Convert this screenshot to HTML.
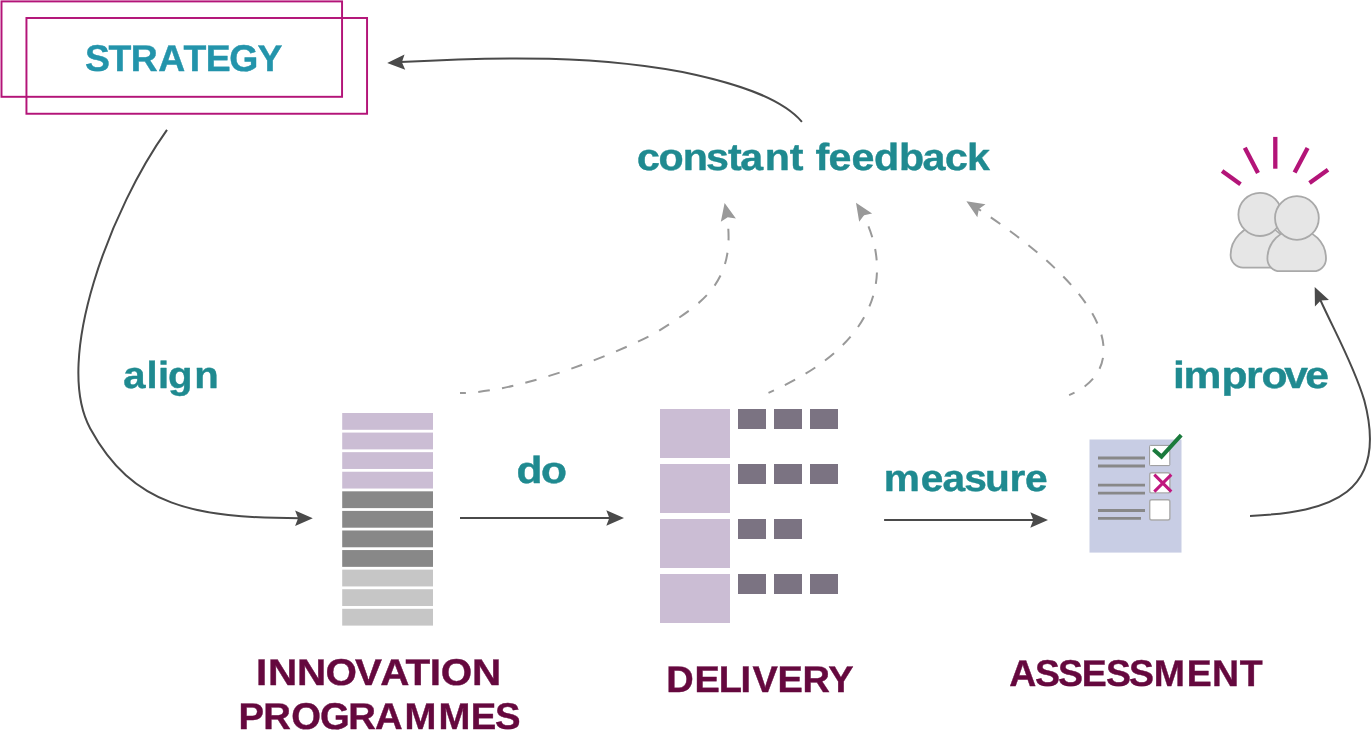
<!DOCTYPE html>
<html lang="en">
<head>
<meta charset="utf-8">
<title>Innovation strategy cycle</title>
<style>
html,body{margin:0;padding:0;background:#fff;}
body{width:1371px;height:739px;overflow:hidden;}
svg{display:block;will-change:transform;}
text{font-family:"Liberation Sans",sans-serif;font-weight:bold;stroke-linejoin:round;text-rendering:geometricPrecision;}
</style>
</head>
<body>
<svg width="1371" height="739" viewBox="0 0 1371 739">
<rect width="1371" height="739" fill="#ffffff"/>

<rect x="1.5" y="1.4" width="340.55" height="95.4" fill="none" stroke="#b31478" stroke-width="1.95"/>
<rect x="26.45" y="18.0" width="340.6" height="95.75" fill="none" stroke="#b31478" stroke-width="1.95"/>
<text transform="scale(1.0045 1)" x="84.70 108.04 130.05 157.60 182.66 204.85 228.18 256.31" y="70.6" font-size="37.2" fill="#2394ab" stroke="#2394ab" stroke-width="0.4">STRATEGY</text>
<text transform="scale(1.0894 1)" x="584.83 604.45 626.82 648.00 668.17 679.44 701.95 725.00 738.23 748.55 760.57 781.73 802.28 825.25 846.74 867.56 887.75" y="170.0" font-size="37.8" fill="#1f8a90" stroke="#1f8a90" stroke-width="0.4">constant feedback</text>
<text transform="scale(1.0598 1)" x="116.40 138.33 148.99 158.54 183.22" y="387.6" font-size="37.8" fill="#1f8a90" stroke="#1f8a90" stroke-width="0.4">align</text>
<text transform="scale(1.1242 1)" x="459.43 481.22" y="483.0" font-size="37.8" fill="#1f8a90" stroke="#1f8a90" stroke-width="0.4">do</text>
<text transform="scale(1.0758 1)" x="821.38 855.91 876.13 896.34 915.60 938.28 952.81" y="490.9" font-size="37.8" fill="#1f8a90" stroke="#1f8a90" stroke-width="0.4">measure</text>
<text transform="scale(1.1280 1)" x="1039.90 1049.31 1082.98 1104.52 1118.45 1138.53 1157.17" y="387.5" font-size="37.8" fill="#1f8a90" stroke="#1f8a90" stroke-width="0.4">improve</text>
<text transform="scale(1.0869 1)" x="235.60 246.49 273.17 299.51 326.63 349.78 373.20 395.32 405.59 434.26" y="685.0" font-size="37.2" fill="#65083e" stroke="#65083e" stroke-width="0.4">INNOVATION</text>
<text transform="scale(1.0294 1)" x="231.74 255.72 282.96 310.87 338.34 364.25 392.86 425.93 457.41 480.80" y="728.8" font-size="37.2" fill="#65083e" stroke="#65083e" stroke-width="0.4">PROGRAMMES</text>
<text transform="scale(1.0224 1)" x="651.76 679.19 702.97 724.36 736.14 760.57 784.92 810.11" y="692.0" font-size="37.2" fill="#65083e" stroke="#65083e" stroke-width="0.4">DELIVERY</text>
<text transform="scale(1.0065 1)" x="1002.69 1028.37 1051.13 1074.81 1098.96 1121.67 1146.31 1178.98 1204.17 1231.65" y="685.9" font-size="37.2" fill="#65083e" stroke="#65083e" stroke-width="0.4">ASSESSMENT</text>
<rect x="342.2" y="413.00" width="90.8" height="16.8" fill="#cbbdd4"/>
<rect x="342.2" y="432.58" width="90.8" height="16.8" fill="#cbbdd4"/>
<rect x="342.2" y="452.16" width="90.8" height="16.8" fill="#cbbdd4"/>
<rect x="342.2" y="471.74" width="90.8" height="16.8" fill="#cbbdd4"/>
<rect x="342.2" y="491.32" width="90.8" height="16.8" fill="#888888"/>
<rect x="342.2" y="510.90" width="90.8" height="16.8" fill="#888888"/>
<rect x="342.2" y="530.48" width="90.8" height="16.8" fill="#888888"/>
<rect x="342.2" y="550.06" width="90.8" height="16.8" fill="#888888"/>
<rect x="342.2" y="569.64" width="90.8" height="16.8" fill="#c6c6c6"/>
<rect x="342.2" y="589.22" width="90.8" height="16.8" fill="#c6c6c6"/>
<rect x="342.2" y="608.80" width="90.8" height="16.8" fill="#c6c6c6"/>
<rect x="660" y="409" width="70" height="49" fill="#cbbdd4"/>
<rect x="738" y="409" width="28" height="20" fill="#7b7382"/>
<rect x="774" y="409" width="28" height="20" fill="#7b7382"/>
<rect x="810" y="409" width="28" height="20" fill="#7b7382"/>
<rect x="660" y="464" width="70" height="49" fill="#cbbdd4"/>
<rect x="738" y="464" width="28" height="20" fill="#7b7382"/>
<rect x="774" y="464" width="28" height="20" fill="#7b7382"/>
<rect x="810" y="464" width="28" height="20" fill="#7b7382"/>
<rect x="660" y="519" width="70" height="49" fill="#cbbdd4"/>
<rect x="738" y="519" width="28" height="20" fill="#7b7382"/>
<rect x="774" y="519" width="28" height="20" fill="#7b7382"/>
<rect x="660" y="574" width="70" height="49" fill="#cbbdd4"/>
<rect x="738" y="574" width="28" height="20" fill="#7b7382"/>
<rect x="774" y="574" width="28" height="20" fill="#7b7382"/>
<rect x="810" y="574" width="28" height="20" fill="#7b7382"/>
<rect x="1089.5" y="439.5" width="92" height="113.1" fill="#c8cde4"/>
<line x1="1098" y1="458.0" x2="1145" y2="458.0" stroke="#888888" stroke-width="2.9"/>
<line x1="1098" y1="466.0" x2="1145" y2="466.0" stroke="#888888" stroke-width="2.9"/>
<line x1="1098" y1="485.1" x2="1145" y2="485.1" stroke="#888888" stroke-width="2.9"/>
<line x1="1098" y1="493.1" x2="1145" y2="493.1" stroke="#888888" stroke-width="2.9"/>
<line x1="1098" y1="510.5" x2="1145" y2="510.5" stroke="#888888" stroke-width="2.9"/>
<line x1="1098" y1="518.4" x2="1141" y2="518.4" stroke="#888888" stroke-width="2.9"/>
<rect x="1149.6" y="445.4" width="20.2" height="20.2" rx="0.8" fill="#ffffff" stroke="#9a9a9a" stroke-width="1"/>
<rect x="1149.7" y="472.7" width="20.2" height="20.2" rx="2" fill="#ffffff" stroke="#aaaaaa" stroke-width="1.4"/>
<rect x="1149.7" y="499.8" width="20.2" height="20.2" rx="2" fill="#ffffff" stroke="#aaaaaa" stroke-width="1.4"/>
<polyline points="1153.4,449.4 1161.5,456.6 1181.2,435.2" fill="none" stroke="#1a7a3c" stroke-width="4"/>
<path d="M1154.3,474.6 L1171.3,491.6 M1171.3,474.6 L1154.3,491.6" fill="none" stroke="#c0177f" stroke-width="3"/>
<g stroke="#b31478" stroke-width="4.3" fill="none">
<line x1="1275.3" y1="136.9" x2="1275.3" y2="168.7"/>
<line x1="1244.8" y1="147.7" x2="1258" y2="173"/>
<line x1="1307.6" y1="148.1" x2="1294.6" y2="172.6"/>
<line x1="1222.1" y1="171.1" x2="1240.5" y2="184.3"/>
<line x1="1328" y1="169.8" x2="1309.5" y2="183"/>
</g>
<path d="M1230.6,255.10000000000002 A29.40000000000009,29.40000000000009 0 0 1 1289.4,255.10000000000002 A12.5,12.5 0 0 1 1276.9,267.6 L1243.1,267.6 A12.5,12.5 0 0 1 1230.6,255.10000000000002 Z" fill="#e6e6e6" stroke="#a9a9a9" stroke-width="1.8"/>
<circle cx="1260" cy="214.4" r="21.6" fill="#e6e6e6" stroke="#a9a9a9" stroke-width="1.8"/>
<path d="M1267.4,258.7 A29.299999999999955,29.299999999999955 0 0 1 1326.0,258.7 A12.5,12.5 0 0 1 1313.5,271.2 L1279.9,271.2 A12.5,12.5 0 0 1 1267.4,258.7 Z" fill="#e6e6e6" stroke="#a9a9a9" stroke-width="1.8"/>
<circle cx="1296.9" cy="218" r="21.9" fill="#e6e6e6" stroke="#a9a9a9" stroke-width="1.8"/>
<path d="M167.0,129.9 C111.8,207.1 52.6,359.3 90.2,428.4 C132.4,506.0 194.1,518.1 299.7,518.2" fill="none" stroke="#4a4a4a" stroke-width="2.0"/>
<path d="M0,0 L-17.7,-7.7 L-14.7,0 L-17.7,7.7 Z" fill="#4a4a4a" transform="translate(312.8,518.2) rotate(0.0)"/>
<path d="M801.9,121.8 C779.2,95.4 728.1,82.1 696.3,74.9 C601.0,54.7 497.8,56.6 400.3,62.1" fill="none" stroke="#4a4a4a" stroke-width="2.0"/>
<path d="M0,0 L-17.7,-7.7 L-14.7,0 L-17.7,7.7 Z" fill="#4a4a4a" transform="translate(387.2,62.9) rotate(177.4)"/>
<path d="M1250.0,515.9 C1331.1,512.2 1389.2,493.8 1364.2,400.1 C1353.8,365.4 1334.9,332.1 1319.9,299.0" fill="none" stroke="#4a4a4a" stroke-width="2.0"/>
<path d="M0,0 L-17.7,-7.7 L-14.7,0 L-17.7,7.7 Z" fill="#4a4a4a" transform="translate(1314.7,287.1) rotate(-114.2)"/>
<path d="M460.0,518.0 C510.3,518.0 560.6,518.0 611.0,518.0" fill="none" stroke="#4a4a4a" stroke-width="2.0"/>
<path d="M0,0 L-17.7,-7.7 L-14.7,0 L-17.7,7.7 Z" fill="#4a4a4a" transform="translate(624.0,518.0) rotate(0.0)"/>
<path d="M884.1,520.0 C934.4,520.0 984.7,520.0 1035.0,520.0" fill="none" stroke="#4a4a4a" stroke-width="2.0"/>
<path d="M0,0 L-17.7,-7.7 L-14.7,0 L-17.7,7.7 Z" fill="#4a4a4a" transform="translate(1048.0,520.0) rotate(0.0)"/>
<path d="M460.0,393.1 C529.8,392.3 641.5,341.9 658.0,331.4 C701.5,303.5 736.8,283.4 726.9,215.7" fill="none" stroke="#999999" stroke-width="2.0" stroke-dasharray="11.6 12.38" stroke-dashoffset="5.6"/>
<path d="M0,0 L-17.7,-7.7 L-14.7,0 L-17.7,7.7 Z" fill="#999999" transform="translate(724.6,202.9) rotate(-102.3)"/>
<path d="M768.5,392.8 C896.2,336.7 886.0,258.1 862.7,214.0" fill="none" stroke="#999999" stroke-width="2.0" stroke-dasharray="11.5 12.07" stroke-dashoffset="5.6"/>
<path d="M0,0 L-17.7,-7.7 L-14.7,0 L-17.7,7.7 Z" fill="#999999" transform="translate(856.0,202.8) rotate(-123.0)"/>
<path d="M1069.1,395.1 C1117.8,375.3 1136.3,313.0 977.4,208.4" fill="none" stroke="#999999" stroke-width="2.0" stroke-dasharray="11.5 11.9" stroke-dashoffset="5.6"/>
<path d="M0,0 L-17.7,-7.7 L-14.7,0 L-17.7,7.7 Z" fill="#999999" transform="translate(966.4,201.3) rotate(-148.0)"/>
</svg>
</body>
</html>
